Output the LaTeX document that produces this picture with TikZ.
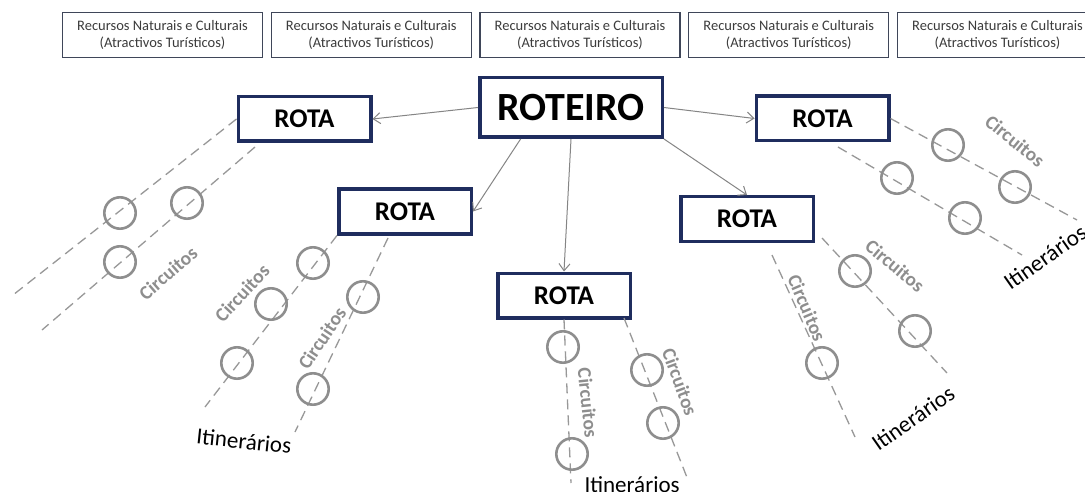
\documentclass[tikz,border=0pt]{standalone}
\usepackage{fontspec}
\setmainfont{Carlito}
\usetikzlibrary{arrows.meta}
\definecolor{navy}{HTML}{1F2D5E}
\definecolor{boxline}{HTML}{3F4659}
\definecolor{boxtext}{HTML}{3C3C3C}
\definecolor{wire}{HTML}{858585}
\definecolor{trail}{HTML}{989898}
\definecolor{stopgray}{HTML}{8E8E8E}

\begin{document}
\begin{tikzpicture}[x=1pt,y=-1pt,
  resource/.style={draw=boxline, line width=1.1pt, fill=white, minimum width=200pt,
    minimum height=45pt, inner sep=0pt, align=center, text=boxtext,
    font=\fontsize{14.5}{17.5}\selectfont},
  master/.style={draw=navy, line width=3.5pt, fill=white, minimum width=182.5pt,
    minimum height=59.5pt, inner sep=0pt, font=\fontsize{40}{40}\selectfont\bfseries},
  route/.style={draw=navy, line width=3.5pt, fill=white, minimum width=132.5pt,
    minimum height=44.5pt, inner sep=0pt, font=\fontsize{27}{27}\selectfont\bfseries},
  link/.style={draw=wire, line width=1pt, -{Straight Barb[length=7pt,width=11pt]}},
  trailline/.style={draw=trail, line width=1.3pt, dash pattern=on 10pt off 6pt},
  halt/.style={circle, draw=stopgray, line width=2.6pt, minimum size=31.4pt, inner sep=0pt},
  circ/.style={text=stopgray, font=\fontsize{19.5}{19.5}\selectfont\bfseries},
  itin/.style={text=black, font=\fontsize{23}{23}\selectfont},
]
\useasboundingbox[fill=white] (0,0) rectangle (1085,492);

% row of resource boxes
\foreach \i/\x in {1/162.5,2/371.25,3/580,4/788.75,5/997.5}
  \node[resource] (res\i) at (\x,35) {Recursos Naturais e Culturais\\(Atractivos Turísticos)};

% main node and routes
\node[master] (roteiro) at (571,107.5) {ROTEIRO};
\node[route] (rota1) at (304.5,119) {ROTA};
\node[route] (rota2) at (405,211.5) {ROTA};
\node[route] (rota3) at (564,295.5) {ROTA};
\node[route] (rota4) at (747,219) {ROTA};
\node[route] (rota5) at (822.5,118.5) {ROTA};

\draw[link] (roteiro.west) -- (rota1.east);
\draw[link] (roteiro.-148) -- (rota2.east);
\draw[link] (roteiro.south) -- (rota3.north);
\draw[link] (roteiro.south east) -- (rota4.north);
\draw[link] (roteiro.east) -- (rota5.west);

% route 1
\coordinate (g1a) at (13,295);
\coordinate (g1bs) at (255,147);
\coordinate (g1b) at (42,330);
\draw[trailline] (rota1.west) -- (g1a);
\draw[trailline] (g1bs) -- (g1b);
\node[halt] (h11) at (120,213) {};
\node[halt] (h12) at (187,203) {};
\node[halt] (h13) at (120,262) {};
\node[circ, rotate=41] (c1) at (168,273) {Circuitos};

% route 2
\coordinate (g2a) at (205,407);
\coordinate (g2bs) at (388,238);
\coordinate (g2b) at (295,432);
\draw[trailline] (rota2.south west) -- (g2a);
\draw[trailline] (g2bs) -- (g2b);
\node[halt] (h21) at (313,263) {};
\node[halt] (h22) at (271,304) {};
\node[halt] (h23) at (237,363) {};
\node[halt] (h24) at (363,297) {};
\node[halt] (h25) at (313,389) {};
\node[circ, rotate=47] (c21) at (242,293) {Circuitos};
\node[circ, rotate=56] (c22) at (322,338) {Circuitos};
\node[itin, rotate=-6] (it2) at (244,441) {Itinerários};

% route 3
\coordinate (g3a) at (571,483);
\coordinate (g3bs) at (624,318);
\coordinate (g3b) at (688,480);
\draw[trailline] (rota3.south) -- (g3a);
\draw[trailline] (g3bs) -- (g3b);
\node[halt] (h31) at (563,347) {};
\node[halt] (h32) at (572,454) {};
\node[halt] (h33) at (647,370) {};
\node[halt] (h34) at (663,423) {};
\node[circ, rotate=-84] (c31) at (588,403) {Circuitos};
\node[circ, rotate=-70] (c32) at (680,382) {Circuitos};
\node[itin, anchor=base west] (it3) at (581,492) {Itinerários};

% route 4
\coordinate (g4as) at (772,255);
\coordinate (g4a) at (855,437);
\coordinate (g4bs) at (822,238);
\coordinate (g4b) at (947,373);
\draw[trailline] (g4as) -- (g4a);
\draw[trailline] (g4bs) -- (g4b);
\node[halt] (h41) at (822,363) {};
\node[halt] (h42) at (855,271) {};
\node[halt] (h43) at (915,331) {};
\node[circ, rotate=-67] (c41) at (807,308) {Circuitos};
\node[circ, rotate=-40] (c42) at (895,266) {Circuitos};
\node[itin, rotate=35] (it4) at (913,418) {Itinerários};

% route 5
\coordinate (g5a) at (1077,220);
\coordinate (g5bs) at (838,147);
\coordinate (g5b) at (1022,255);
\draw[trailline] (rota5.east) -- (g5a);
\draw[trailline] (g5bs) -- (g5b);
\node[halt] (h51) at (948,145) {};
\node[halt] (h52) at (1015,187) {};
\node[halt] (h53) at (897,178) {};
\node[halt] (h54) at (965,218) {};
\node[circ, rotate=-39] (c5) at (1015,141) {Circuitos};
\node[itin, rotate=35] (it5) at (1045,257) {Itinerários};
\end{tikzpicture}
\end{document}
